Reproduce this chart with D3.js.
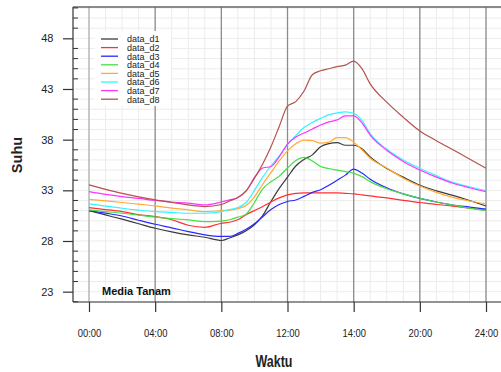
<!DOCTYPE html>
<html>
<head>
<meta charset="utf-8">
<script src="https://d3js.org/d3.v7.min.js"></script>
<style>
  body { margin: 0; background: #fff; }
  text { font-family: "Liberation Sans", Arial, sans-serif; }
</style>
</head>
<body>
<div id="my_dataviz"></div>
<script>

// time in hours (the 6th tick is labelled "14:00" in the original)
var hours = [0,1,2,3,4,5,6,7,8,8.5,9,9.5,10,10.5,11,11.5,12,12.5,13,13.5,14,14.5,15,15.5,16,16.5,17,18,19,20,21,22,23,24];

var d1 = [31.0,30.57,30.15,29.7,29.26,28.9,28.6,28.37,28.05,28.3,28.6,29.0,29.6,30.5,31.9,33.2,34.3,35.4,36.05,36.5,37.3,37.6,37.7,37.45,37.45,37.1,36.3,35.15,34.3,33.5,32.95,32.5,32.0,31.45];
var d2 = [31.3,31.1,30.9,30.6,30.4,30.1,29.55,29.35,29.75,29.85,30.1,30.6,31.0,31.4,31.85,32.25,32.55,32.7,32.75,32.75,32.75,32.75,32.75,32.7,32.65,32.55,32.45,32.25,32.0,31.8,31.6,31.45,31.25,31.05];
var d3v = [31.0,30.75,30.47,30.05,29.65,29.3,28.93,28.6,28.45,28.45,28.75,29.15,29.7,30.4,31.1,31.6,31.9,32.05,32.4,32.8,33.05,33.5,34.0,34.5,35.1,34.7,34.1,33.25,32.65,32.2,31.85,31.55,31.35,31.15];
var d4 = [31.07,30.9,30.74,30.55,30.35,30.2,30.08,29.92,29.97,30.1,30.35,30.65,31.8,33.15,33.85,34.4,35.2,35.95,36.25,35.9,35.35,35.15,35.0,34.85,34.7,34.35,33.86,33.15,32.65,32.22,31.85,31.55,31.25,31.0];
var d5 = [32.1,31.95,31.8,31.63,31.46,31.25,31.07,30.9,31.0,31.05,31.2,31.5,32.35,33.6,34.75,35.9,36.9,37.6,37.95,37.9,37.65,37.75,38.2,38.2,37.75,37.0,36.17,35.2,34.2,33.43,32.8,32.3,31.95,31.66];
var d6 = [31.66,31.45,31.23,31.05,30.9,30.82,30.74,30.74,30.9,31.1,31.3,31.8,33.0,34.3,35.4,36.4,37.5,38.4,39.2,39.7,40.1,40.45,40.65,40.75,40.6,39.9,38.6,37.05,36.0,35.18,34.45,33.78,33.35,32.97];
var d7 = [32.87,32.6,32.38,32.2,32.0,31.85,31.73,31.56,31.85,32.05,32.3,32.95,34.25,35.2,35.35,36.3,37.55,38.25,38.65,39.05,39.45,39.75,39.95,40.35,40.35,39.65,38.45,36.95,35.85,35.0,34.3,33.7,33.25,32.87];
var d8 = [33.53,33.1,32.7,32.35,32.05,31.8,31.56,31.4,31.6,31.95,32.3,32.95,34.2,35.6,37.3,39.3,41.3,41.75,42.8,44.4,44.8,45.0,45.2,45.35,45.75,45.0,43.5,41.7,40.2,38.85,37.9,37.0,36.1,35.18];

var seriesNames = ["data_d1","data_d2","data_d3","data_d4","data_d5","data_d6","data_d7","data_d8"];
var seriesValues = [d1, d2, d3v, d4, d5, d6, d7, d8];
var colors = ["#3c3c3c","#ff3030","#2828ff","#44e044","#ffab33","#33f4ff","#ff33ff","#b4524d"];

var xTicks = [0,4,8,12,16,20,24];
var xLabels = ["00:00","04:00","08:00","12:00","14:00","20:00","24:00"];
var yTicks = [23,28,33,38,43,48];

// plot box (right side runs past the window edge)
var W = 501, H = 372;
var pLeft = 73, pTop = 7, pBottom = 302, pRight = 510;

var svg = d3.select("#my_dataviz")
  .append("svg")
    .attr("width", W)
    .attr("height", H);

var x = d3.scaleLinear()
  .domain([-0.967, 25.45])
  .range([pLeft, pRight]);

var y = d3.scaleLinear()
  .domain([21.98, 51.09])
  .range([pBottom, pTop]);

// light grid
svg.append("g")
  .selectAll("line")
  .data(d3.range(0, 26))
  .enter()
  .append("line")
    .attr("x1", function(d){ return x(d); })
    .attr("x2", function(d){ return x(d); })
    .attr("y1", pTop)
    .attr("y2", pBottom)
    .style("stroke", "#ececec");

svg.append("g")
  .selectAll("line")
  .data(d3.range(22, 52))
  .enter()
  .append("line")
    .attr("x1", pLeft)
    .attr("x2", W)
    .attr("y1", function(d){ return y(d); })
    .attr("y2", function(d){ return y(d); })
    .style("stroke", "#ececec");

// major vertical lines
svg.append("g")
  .selectAll("line")
  .data(xTicks)
  .enter()
  .append("line")
    .attr("x1", function(d){ return x(d); })
    .attr("x2", function(d){ return x(d); })
    .attr("y1", pTop)
    .attr("y2", pBottom)
    .style("stroke", function(d){ return d === 0 ? "#b0b0b0" : "#8c8c8c"; })
    .style("stroke-width", 1.3);

// lines
var line = d3.line()
  .x(function(d, i){ return x(hours[i]); })
  .y(function(d){ return y(d); })
  .curve(d3.curveMonotoneX);

svg.append("g")
  .selectAll("path")
  .data(seriesValues)
  .enter()
  .append("path")
    .attr("d", function(d){ return line(d); })
    .style("fill", "none")
    .style("stroke", function(d, i){ return colors[i]; })
    .style("stroke-width", 1.2);

// frame
svg.append("line").attr("x1", pLeft).attr("x2", W).attr("y1", pTop).attr("y2", pTop)
  .style("stroke", "#666").style("stroke-width", 1.5);
svg.append("line").attr("x1", pLeft).attr("x2", pLeft).attr("y1", pTop).attr("y2", pBottom)
  .style("stroke", "#333").style("stroke-width", 1.2);
svg.append("line").attr("x1", pLeft).attr("x2", W).attr("y1", pBottom).attr("y2", pBottom)
  .style("stroke", "#333").style("stroke-width", 1.2);

// X axis
var xAxis = svg.append("g")
  .attr("transform", "translate(0," + pBottom + ")")
  .call(d3.axisBottom(x).tickValues(xTicks)
    .tickFormat(function(d, i){ return xLabels[i]; })
    .tickSize(10));
xAxis.select(".domain").remove();
xAxis.selectAll("line").style("stroke", "#333").style("stroke-width", 1.2);
// labels in the original are narrow, squeeze them around their own centre
xAxis.selectAll(".tick text")
  .attr("y", 35.5)
  .attr("dy", null)
  .style("font-size", "11.5px")
  .style("fill", "#222")
  .style("transform", "scaleX(0.82)")
  .style("transform-box", "fill-box")
  .style("transform-origin", "center");

// Y axis
var yAxis = svg.append("g")
  .attr("transform", "translate(" + pLeft + ",0)")
  .call(d3.axisLeft(y).tickValues(yTicks).tickSize(10).tickPadding(9.5));
yAxis.select(".domain").remove();
yAxis.selectAll("line").style("stroke", "#333").style("stroke-width", 1.2);
yAxis.selectAll("text")
  .style("font-size", "11px")
  .style("fill", "#222");

// minor y ticks
svg.append("g")
  .selectAll("line")
  .data(d3.range(22, 52).filter(function(d){ return yTicks.indexOf(d) < 0; }))
  .enter()
  .append("line")
    .attr("x1", pLeft)
    .attr("x2", pLeft + 5)
    .attr("y1", function(d){ return y(d); })
    .attr("y2", function(d){ return y(d); })
    .style("stroke", "#333");

// axis titles
svg.append("g")
  .attr("transform", "translate(274,367)")
  .append("text")
    .attr("text-anchor", "middle")
    .attr("transform", "scale(0.78,1)")
    .style("font-size", "16px")
    .style("font-weight", "bold")
    .style("fill", "#222")
    .text("Waktu");

svg.append("text")
  .attr("transform", "translate(22,155) rotate(-90)")
  .attr("text-anchor", "middle")
  .style("font-size", "14.5px")
  .style("font-weight", "bold")
  .style("fill", "#222")
  .text("Suhu");

svg.append("text")
  .attr("x", 102)
  .attr("y", 295)
  .style("font-size", "11px")
  .style("font-weight", "bold")
  .style("fill", "#111")
  .text("Media Tanam");

// legend
var legend = svg.append("g");
legend.append("rect")
  .attr("x", 95).attr("y", 31)
  .attr("width", 76).attr("height", 75)
  .style("fill", "#fff");

var rows = legend.selectAll("g")
  .data(seriesNames)
  .enter()
  .append("g")
    .attr("transform", function(d, i){ return "translate(0," + (39 + i * 8.6) + ")"; });

rows.append("line")
  .attr("x1", 101).attr("x2", 118)
  .attr("y1", 0).attr("y2", 0)
  .style("stroke", function(d, i){ return colors[i]; })
  .style("stroke-width", 1.3);

rows.append("text")
  .attr("x", 127)
  .attr("y", 3.3)
  .style("font-size", "9px")
  .style("fill", "#222")
  .text(function(d){ return d; });

</script>
</body>
</html>
